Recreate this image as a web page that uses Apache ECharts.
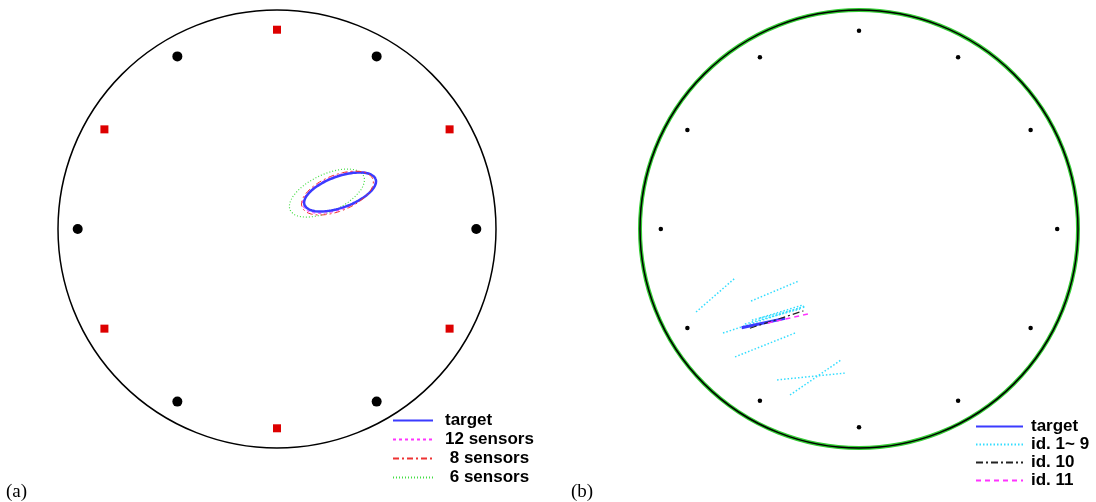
<!DOCTYPE html>
<html>
<head>
<meta charset="utf-8">
<script src="https://cdn.jsdelivr.net/npm/echarts@6/dist/echarts.min.js"></script>
<style>html,body{margin:0;padding:0;background:#fff}#c{width:1096px;height:502px}</style>
</head>
<body>
<div id="c"></div>
<script>
// ---- data (units: fraction of the outer circle radius) ----
const sensorRadius = 0.91;
const blackSensorAngles = [0, 60, 120, 180, 240, 300];
const redSensorAngles = [30, 90, 150, 210, 270, 330];
const rightSensorAngles = [0, 30, 60, 90, 120, 150, 180, 210, 240, 270, 300, 330];
const rightSensorRadius = 0.905;

// panel (a) reconstructed ellipses: centre x, centre y, semi-major, semi-minor, tilt (deg)
const ellipseNames = ['target', '12 sensors', ' 8 sensors', ' 6 sensors'];
const ellipseCx = [0.288, 0.283, 0.276, 0.228];
const ellipseCy = [0.169, 0.167, 0.164, 0.164];
const ellipseA = [0.173, 0.176, 0.174, 0.185];
const ellipseB = [0.071, 0.077, 0.082, 0.085];
const ellipseTilt = [20, 21, 22, 25];

// panel (b) segments [x1, y1, x2, y2]
const rightNames = ['target', 'id. 1~ 9', 'id. 10', 'id. 11'];
const targetSeg = [-0.536, -0.451, -0.338, -0.408];
const id10Seg = [-0.498, -0.453, -0.254, -0.374];
const id11Seg = [-0.416, -0.429, -0.233, -0.388];
const id1to9Segs = [
  [-0.744, -0.379, -0.566, -0.224],
  [-0.493, -0.329, -0.274, -0.237],
  [-0.621, -0.475, -0.247, -0.352],
  [-0.489, -0.416, -0.247, -0.356],
  [-0.521, -0.434, -0.269, -0.365],
  [-0.566, -0.584, -0.292, -0.475],
  [-0.374, -0.689, -0.064, -0.658],
  [-0.315, -0.758, -0.082, -0.598],
  [-0.452, -0.406, -0.256, -0.347]
];

// ---- build ----
function ellipsePts(i) {
  const pts = [];
  const t = ellipseTilt[i] * Math.PI / 180;
  for (let k = 0; k <= 96; k++) {
    const u = k / 96 * 2 * Math.PI;
    const ex = ellipseA[i] * Math.cos(u), ey = ellipseB[i] * Math.sin(u);
    pts.push([ellipseCx[i] + ex * Math.cos(t) - ey * Math.sin(t),
              ellipseCy[i] + ex * Math.sin(t) + ey * Math.cos(t)]);
  }
  return pts;
}
const seg = s => [[s[0], s[1]], [s[2], s[3]]];

const ellipseStyles = [
  {color: '#3b3bff', width: 2.5, type: 'solid'},
  {color: '#ff33ff', width: 1, type: [3, 3]},
  {color: '#ee3333', width: 1, type: [6, 3, 2, 3]},
  {color: '#44dd44', width: 1.2, type: [1, 2]}
];
const zs = [10, 9, 11, 8];

const FONT = '"Liberation Sans", Arial, sans-serif';
const series = [];
ellipseNames.forEach((n, i) => {
  series.push({
    name: n, type: 'line', xAxisIndex: 0, yAxisIndex: 0, symbol: 'none',
    data: ellipsePts(i), z: zs[i],
    lineStyle: ellipseStyles[i], itemStyle: {color: ellipseStyles[i].color}
  });
});
series.push({
  type: 'scatter', coordinateSystem: 'polar', polarIndex: 0, symbol: 'circle', symbolSize: 10,
  itemStyle: {color: '#000', opacity: 1}, data: blackSensorAngles.map(a => [sensorRadius, a])
});
series.push({
  type: 'scatter', coordinateSystem: 'polar', polarIndex: 0, symbol: 'rect', symbolSize: 8,
  itemStyle: {color: '#dd0000', opacity: 1}, data: redSensorAngles.map(a => [sensorRadius, a])
});
series.push({
  type: 'scatter', coordinateSystem: 'polar', polarIndex: 2, symbol: 'circle', symbolSize: 4.5,
  itemStyle: {color: '#000', opacity: 1}, data: rightSensorAngles.map(a => [rightSensorRadius, a])
});
id1to9Segs.forEach(s => {
  series.push({
    name: rightNames[1], type: 'line', xAxisIndex: 1, yAxisIndex: 1, symbol: 'none', data: seg(s),
    lineStyle: {color: '#33ddff', width: 1.5, type: [1.5, 2]}, itemStyle: {color: '#33ddff'}, z: 2
  });
});
series.push({
  name: rightNames[0], type: 'line', xAxisIndex: 1, yAxisIndex: 1, symbol: 'none', data: seg(targetSeg),
  lineStyle: {color: '#3b3bff', width: 3}, itemStyle: {color: '#3b3bff'}, z: 5
});
series.push({
  name: rightNames[2], type: 'line', xAxisIndex: 1, yAxisIndex: 1, symbol: 'none', data: seg(id10Seg),
  lineStyle: {color: '#222', width: 1.2, type: [7, 3, 2, 3]}, itemStyle: {color: '#222'}, z: 6
});
series.push({
  name: rightNames[3], type: 'line', xAxisIndex: 1, yAxisIndex: 1, symbol: 'none', data: seg(id11Seg),
  lineStyle: {color: '#ff33ff', width: 1.5, type: [5, 4]}, itemStyle: {color: '#ff33ff'}, z: 7
});

const hiddenAxis = {type: 'value', min: -1, max: 1, show: false};
function angleAx(idx, color, width) {
  return {polarIndex: idx, type: 'value', min: 0, max: 360, startAngle: 0, clockwise: false,
    axisLine: {show: true, lineStyle: {color: color, width: width}},
    axisTick: {show: false}, axisLabel: {show: false}, splitLine: {show: false}};
}
function radiusAx(idx) {
  return {polarIndex: idx, type: 'value', min: 0, max: 1, show: false, splitLine: {show: false}};
}

const option = {
  animation: false,
  backgroundColor: '#fff',
  title: [
    {text: '(a)', left: 1, top: 478, textStyle: {fontFamily: '"Liberation Serif", "Times New Roman", serif', fontSize: 19, fontWeight: 'normal', color: '#000'}},
    {text: '(b)', left: 566, top: 478, textStyle: {fontFamily: '"Liberation Serif", "Times New Roman", serif', fontSize: 19, fontWeight: 'normal', color: '#000'}}
  ],
  grid: [
    {left: 58, top: 10, width: 438, height: 438},
    {left: 640, top: 10, width: 438, height: 438}
  ],
  xAxis: [Object.assign({gridIndex: 0}, hiddenAxis), Object.assign({gridIndex: 1}, hiddenAxis)],
  yAxis: [Object.assign({gridIndex: 0}, hiddenAxis), Object.assign({gridIndex: 1}, hiddenAxis)],
  polar: [
    {center: [277, 229], radius: 219},
    {center: [859, 229], radius: 219},
    {center: [859, 229], radius: 219}
  ],
  angleAxis: [angleAx(0, '#000', 1.5), angleAx(1, '#33cc33', 4), angleAx(2, '#000', 1.5)],
  radiusAxis: [radiusAx(0), radiusAx(1), radiusAx(2)],
  legend: [
    {data: ellipseNames, orient: 'vertical', left: 392, top: 412, height: 120, padding: 0,
     itemWidth: 40, itemHeight: 12, itemGap: 2, selectedMode: false,
     itemStyle: {opacity: 0},
     textStyle: {fontFamily: FONT, fontSize: 17, fontWeight: 'bold', color: '#000', lineHeight: 14, padding: [0, 0, 0, 7]}},
    {data: rightNames, orient: 'vertical', left: 975, top: 418, height: 120, padding: 0,
     itemWidth: 47, itemHeight: 12, itemGap: 1, selectedMode: false,
     itemStyle: {opacity: 0},
     textStyle: {fontFamily: FONT, fontSize: 17, fontWeight: 'bold', color: '#000', lineHeight: 14, padding: [0, 0, 0, 3]}}
  ],
  series: series
};
const chart = echarts.init(document.getElementById('c'), null, {renderer: 'canvas'});
chart.setOption(option);
</script>
</body>
</html>
